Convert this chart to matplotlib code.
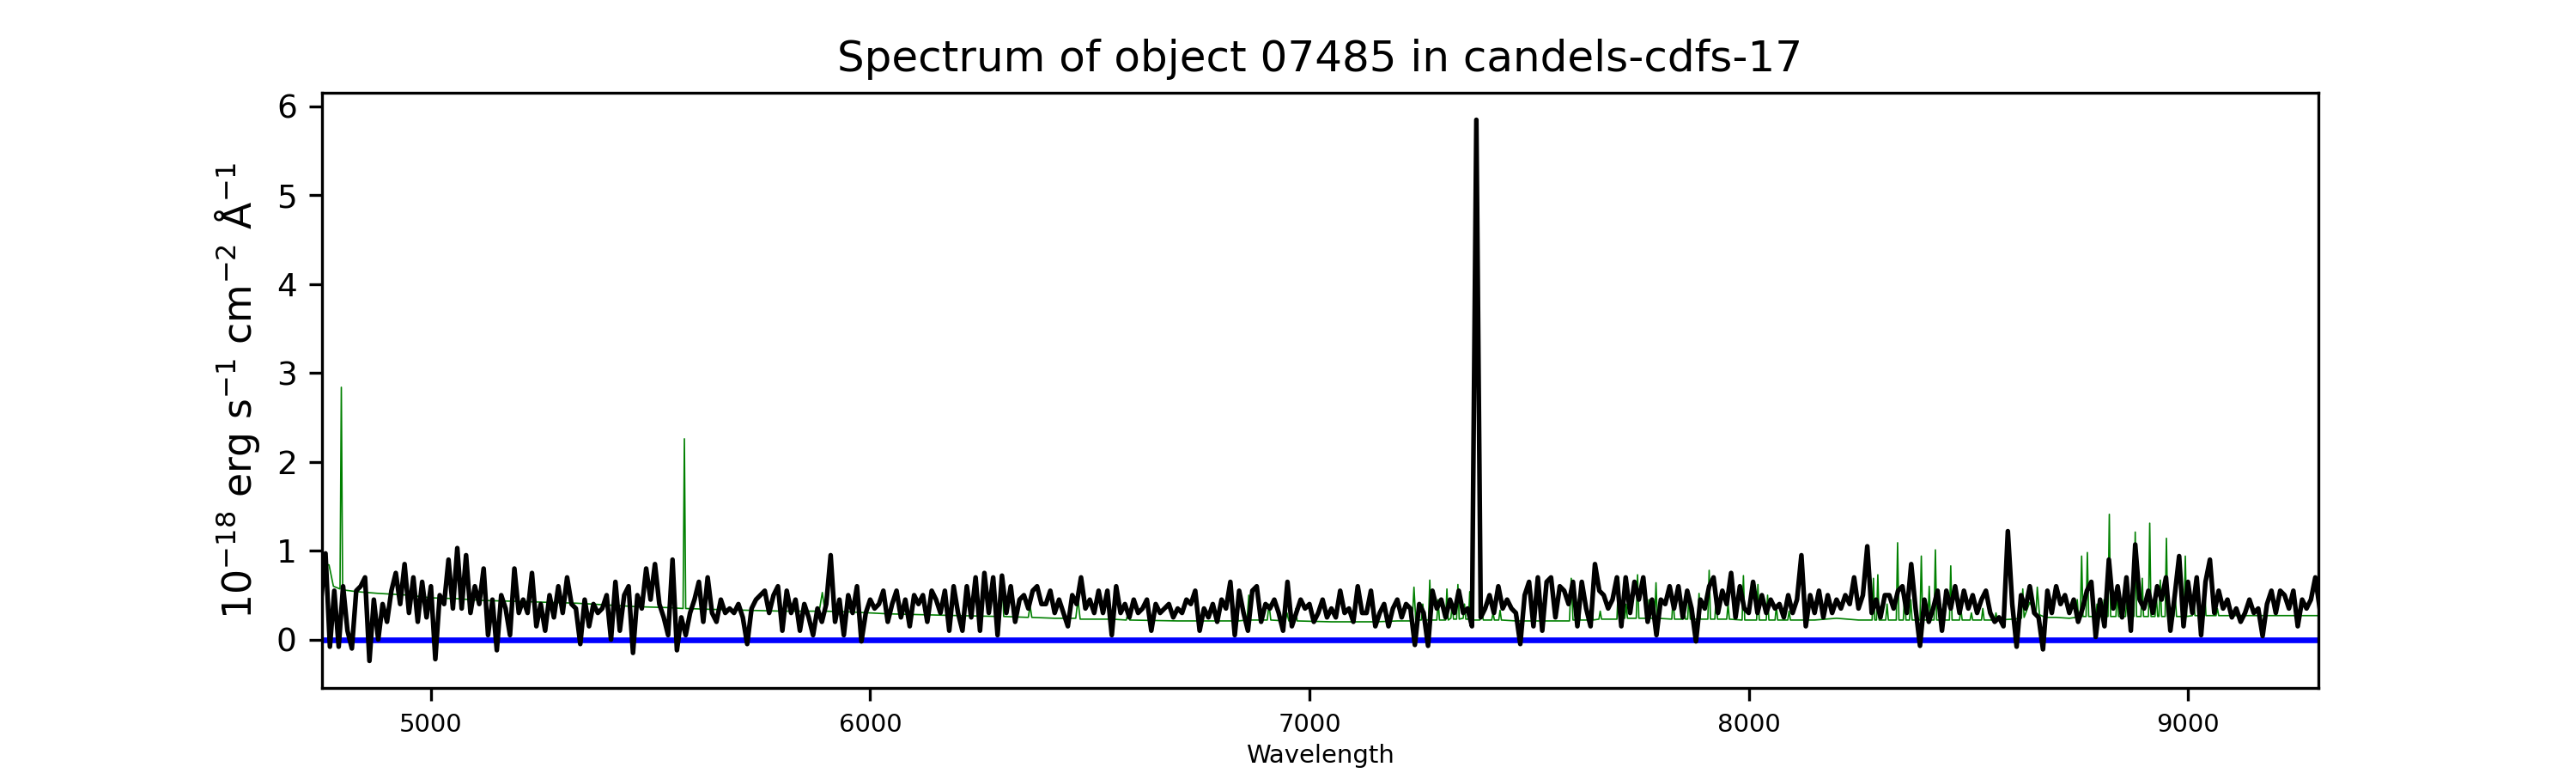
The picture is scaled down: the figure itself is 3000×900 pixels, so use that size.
"""Spectrum figure: object flux, sky/error spectrum and zero level."""

import matplotlib

matplotlib.use("Agg")
import matplotlib.pyplot as plt
import numpy as np

# wavelength grid of the extracted spectrum (Angstrom)
wave_start = 4750.0
wave_step = 10.0

# object flux, 1e-18 erg/s/cm2/A  (one row per 100 A)
flux = [
    0.45, 0.97, -0.08, 0.55, -0.08, 0.60, 0.10, -0.10, 0.55, 0.60,   # 4750
    0.70, -0.24, 0.45, 0.00, 0.40, 0.20, 0.55, 0.75, 0.40, 0.85,    # 4850
    0.30, 0.70, 0.20, 0.65, 0.25, 0.60, -0.22, 0.50, 0.40, 0.90,    # 4950
    0.35, 1.03, 0.35, 0.95, 0.30, 0.60, 0.40, 0.80, 0.05, 0.45,     # 5050
    -0.12, 0.50, 0.35, 0.05, 0.80, 0.30, 0.45, 0.30, 0.75, 0.15,    # 5150
    0.40, 0.10, 0.50, 0.25, 0.60, 0.30, 0.70, 0.40, 0.35, -0.05,    # 5250
    0.45, 0.15, 0.40, 0.30, 0.35, 0.50, 0.00, 0.65, 0.10, 0.50,     # 5350
    0.60, -0.15, 0.50, 0.35, 0.80, 0.45, 0.85, 0.40, 0.25, 0.05,    # 5450
    0.90, -0.12, 0.25, 0.05, 0.30, 0.45, 0.65, 0.20, 0.70, 0.30,    # 5550
    0.20, 0.45, 0.30, 0.35, 0.30, 0.40, 0.25, -0.05, 0.35, 0.45,    # 5650
    0.50, 0.55, 0.30, 0.50, 0.60, 0.10, 0.55, 0.30, 0.45, 0.10,     # 5750
    0.40, 0.25, 0.05, 0.35, 0.20, 0.40, 0.95, 0.20, 0.45, 0.05,     # 5850
    0.50, 0.30, 0.60, -0.02, 0.30, 0.45, 0.35, 0.40, 0.55, 0.20,    # 5950
    0.40, 0.55, 0.25, 0.45, 0.15, 0.50, 0.40, 0.50, 0.20, 0.55,     # 6050
    0.45, 0.30, 0.55, 0.10, 0.60, 0.30, 0.10, 0.60, 0.25, 0.70,     # 6150
    0.10, 0.75, 0.30, 0.70, 0.05, 0.72, 0.30, 0.60, 0.20, 0.45,     # 6250
    0.50, 0.35, 0.55, 0.60, 0.40, 0.40, 0.55, 0.30, 0.45, 0.30,     # 6350
    0.15, 0.50, 0.40, 0.70, 0.35, 0.45, 0.30, 0.55, 0.30, 0.55,     # 6450
    0.05, 0.60, 0.30, 0.40, 0.25, 0.45, 0.30, 0.35, 0.45, 0.10,     # 6550
    0.40, 0.30, 0.35, 0.40, 0.25, 0.35, 0.30, 0.45, 0.40, 0.55,     # 6650
    0.10, 0.35, 0.25, 0.40, 0.20, 0.45, 0.35, 0.65, 0.05, 0.55,     # 6750
    0.30, 0.10, 0.55, 0.60, 0.20, 0.40, 0.35, 0.45, 0.30, 0.10,     # 6850
    0.65, 0.15, 0.30, 0.45, 0.35, 0.40, 0.20, 0.30, 0.45, 0.25,     # 6950
    0.35, 0.25, 0.55, 0.30, 0.35, 0.20, 0.60, 0.30, 0.30, 0.55,     # 7050
    0.15, 0.30, 0.40, 0.15, 0.35, 0.45, 0.25, 0.40, 0.35, -0.06,    # 7150
    0.40, 0.30, -0.07, 0.55, 0.35, 0.45, 0.25, 0.45, 0.30, 0.55,    # 7250
    0.30, 0.35, 0.15, 5.85, 0.25, 0.35, 0.50, 0.30, 0.60, 0.35,     # 7350
    0.45, 0.35, 0.30, -0.05, 0.50, 0.65, 0.15, 0.70, 0.10, 0.65,    # 7450
    0.70, 0.25, 0.60, 0.55, 0.40, 0.65, 0.15, 0.65, 0.35, 0.15,     # 7550
    0.85, 0.55, 0.50, 0.35, 0.45, 0.70, 0.15, 0.70, 0.30, 0.65,     # 7650
    0.45, 0.70, 0.20, 0.45, 0.05, 0.45, 0.40, 0.60, 0.35, 0.60,     # 7750
    0.25, 0.55, 0.35, -0.02, 0.45, 0.35, 0.60, 0.70, 0.30, 0.55,    # 7850
    0.40, 0.75, 0.25, 0.60, 0.35, 0.30, 0.65, 0.30, 0.50, 0.30,     # 7950
    0.45, 0.35, 0.40, 0.25, 0.50, 0.30, 0.45, 0.95, 0.15, 0.50,     # 8050
    0.30, 0.55, 0.25, 0.50, 0.30, 0.45, 0.35, 0.50, 0.40, 0.70,     # 8150
    0.35, 0.50, 1.05, 0.30, 0.45, 0.25, 0.50, 0.50, 0.35, 0.55,     # 8250
    0.60, 0.30, 0.85, 0.35, -0.07, 0.45, 0.20, 0.35, 0.55, 0.10,    # 8350
    0.55, 0.35, 0.60, 0.30, 0.55, 0.35, 0.50, 0.30, 0.45, 0.55,     # 8450
    0.30, 0.20, 0.25, 0.15, 1.22, 0.40, -0.08, 0.50, 0.35, 0.60,    # 8550
    0.30, 0.25, -0.11, 0.55, 0.30, 0.60, 0.40, 0.50, 0.30, 0.45,    # 8650
    0.20, 0.35, 0.55, 0.65, 0.03, 0.45, 0.15, 0.90, 0.35, 0.60,     # 8750
    0.25, 0.70, 0.10, 1.07, 0.45, 0.35, 0.55, 0.30, 0.60, 0.45,     # 8850
    0.70, 0.10, 0.50, 0.94, 0.15, 0.65, 0.30, 0.70, 0.05, 0.65,     # 8950
    0.90, 0.30, 0.55, 0.35, 0.45, 0.25, 0.35, 0.20, 0.30, 0.45,     # 9050
    0.30, 0.35, 0.04, 0.40, 0.55, 0.30, 0.55, 0.50, 0.35, 0.55,     # 9150
    0.15, 0.45, 0.35, 0.45, 0.70, 0.35,                             # 9250
]

# sky / noise spectrum (narrow sky lines kept as explicit points)
sky_wave = [
    4752, 4768, 4778, 4793, 4796, 4799, 4830, 4880, 4950, 5000,
    5060, 5120, 5200, 5260, 5330, 5400, 5470, 5540, 5574, 5577,
    5580, 5640, 5720, 5800, 5884, 5891, 5897, 5960, 6040, 6120,
    6200, 6296, 6300, 6304, 6360, 6364, 6368, 6420, 6468, 6473,
    6478, 6550, 6583, 6587, 6591, 6700, 6830, 6834, 6838, 6858,
    6862, 6866, 6904, 6908, 6912, 6945, 6949, 6953, 6966, 6969,
    6972, 7050, 7150, 7200, 7234, 7238, 7242, 7255, 7258, 7262,
    7271, 7274, 7277, 7290, 7293, 7296, 7310, 7313, 7316, 7322,
    7325, 7328, 7335, 7338, 7341, 7350, 7353, 7356, 7362, 7365,
    7368, 7388, 7392, 7396, 7415, 7418, 7421, 7431, 7434, 7437,
    7470, 7473, 7476, 7592, 7596, 7600, 7610, 7613, 7616, 7640,
    7643, 7646, 7659, 7662, 7665, 7700, 7704, 7708, 7718, 7721,
    7724, 7744, 7747, 7750, 7770, 7773, 7776, 7786, 7789, 7792,
    7825, 7828, 7831, 7850, 7853, 7856, 7861, 7864, 7867, 7884,
    7887, 7890, 7907, 7910, 7913, 7923, 7926, 7929, 7950, 7953,
    7956, 7985, 7988, 7991, 8018, 8021, 8024, 8040, 8043, 8046,
    8060, 8063, 8066, 8089, 8092, 8095, 8150, 8200, 8250, 8281,
    8284, 8287, 8291, 8294, 8297, 8312, 8315, 8318, 8336, 8339,
    8342, 8352, 8355, 8358, 8366, 8369, 8372, 8390, 8393, 8396,
    8408, 8411, 8414, 8422, 8425, 8428, 8440, 8443, 8446, 8457,
    8460, 8463, 8480, 8483, 8486, 8504, 8507, 8510, 8530, 8533,
    8536, 8560, 8563, 8566, 8600, 8621, 8624, 8627, 8640, 8654,
    8657, 8662, 8675, 8700, 8730, 8745, 8748, 8751, 8755, 8758,
    8761, 8768, 8771, 8774, 8790, 8793, 8796, 8806, 8809, 8812,
    8818, 8821, 8824, 8836, 8839, 8842, 8858, 8861, 8864, 8877,
    8880, 8883, 8893, 8896, 8899, 8910, 8913, 8916, 8925, 8928,
    8931, 8934, 8937, 8940, 8948, 8951, 8954, 8968, 8971, 8974,
    8991, 8994, 8997, 9010, 9013, 9016, 9035, 9038, 9041, 9064,
    9067, 9070, 9100, 9150, 9200, 9300,
]
sky_flux = [
    0.86, 0.84, 0.60, 0.57, 2.84, 0.56, 0.54, 0.52, 0.50, 0.47,
    0.46, 0.44, 0.43, 0.42, 0.41, 0.39, 0.37, 0.36, 0.35, 2.26,
    0.35, 0.34, 0.33, 0.32, 0.32, 0.53, 0.32, 0.31, 0.29, 0.28,
    0.27, 0.26, 0.71, 0.26, 0.25, 0.38, 0.25, 0.24, 0.24, 0.45,
    0.23, 0.23, 0.22, 0.30, 0.22, 0.21, 0.21, 0.32, 0.21, 0.22,
    0.50, 0.22, 0.22, 0.40, 0.22, 0.21, 0.30, 0.21, 0.21, 0.35,
    0.21, 0.20, 0.20, 0.21, 0.21, 0.59, 0.22, 0.22, 0.40, 0.22,
    0.22, 0.67, 0.22, 0.22, 0.45, 0.22, 0.22, 0.57, 0.22, 0.24,
    0.40, 0.23, 0.23, 0.62, 0.23, 0.24, 0.40, 0.23, 0.23, 0.54,
    0.22, 0.22, 0.30, 0.22, 0.22, 0.30, 0.22, 0.22, 0.33, 0.22,
    0.21, 0.28, 0.21, 0.21, 0.69, 0.22, 0.22, 0.46, 0.22, 0.22,
    0.35, 0.22, 0.23, 0.32, 0.23, 0.23, 0.70, 0.24, 0.24, 0.40,
    0.24, 0.24, 0.73, 0.24, 0.24, 0.45, 0.24, 0.24, 0.64, 0.24,
    0.23, 0.48, 0.23, 0.23, 0.35, 0.23, 0.23, 0.49, 0.23, 0.23,
    0.52, 0.23, 0.23, 0.78, 0.23, 0.23, 0.50, 0.23, 0.23, 0.40,
    0.23, 0.22, 0.72, 0.22, 0.22, 0.62, 0.22, 0.22, 0.50, 0.22,
    0.22, 0.38, 0.22, 0.22, 0.32, 0.22, 0.22, 0.24, 0.22, 0.22,
    0.69, 0.22, 0.22, 0.73, 0.22, 0.22, 0.40, 0.22, 0.22, 1.09,
    0.22, 0.22, 0.50, 0.22, 0.22, 0.45, 0.22, 0.22, 0.94, 0.22,
    0.22, 0.60, 0.22, 0.22, 1.01, 0.22, 0.22, 0.40, 0.22, 0.22,
    0.83, 0.22, 0.22, 0.35, 0.22, 0.22, 0.30, 0.22, 0.22, 0.35,
    0.22, 0.22, 0.30, 0.22, 0.23, 0.24, 0.57, 0.25, 0.42, 0.28,
    0.59, 0.28, 0.25, 0.25, 0.24, 0.25, 0.45, 0.25, 0.25, 0.94,
    0.26, 0.26, 0.98, 0.26, 0.26, 0.40, 0.26, 0.26, 0.45, 0.26,
    0.26, 1.41, 0.26, 0.26, 0.55, 0.26, 0.26, 0.45, 0.26, 0.26,
    1.21, 0.26, 0.26, 0.69, 0.26, 0.26, 1.31, 0.26, 0.26, 0.50,
    0.26, 0.26, 0.67, 0.26, 0.26, 1.14, 0.26, 0.26, 0.50, 0.26,
    0.26, 0.94, 0.26, 0.27, 0.45, 0.27, 0.27, 0.62, 0.27, 0.27,
    0.35, 0.27, 0.27, 0.27, 0.27, 0.27,
]

wave_limits = (4752, 9297)
title = "Spectrum of object 07485 in candels-cdfs-17"
ylabel = r"$10^{-18}$ erg s$^{-1}$ cm$^{-2}$ Å$^{-1}$"

wave = wave_start + wave_step * np.arange(len(flux))

fig, ax = plt.subplots(figsize=(10, 3), dpi=300)

ax.axhline(0, color="blue", linewidth=1.6)
ax.plot(sky_wave, sky_flux, color="green", linewidth=0.4)
ax.plot(wave, flux, color="black", linewidth=1.3)

ax.set_xlim(*wave_limits)
ax.set_title(title, fontsize=12)
ax.set_xlabel("Wavelength", fontsize=7, labelpad=2)
ax.set_ylabel(ylabel, fontsize=11)
ax.tick_params(axis="x", labelsize=7)
ax.tick_params(axis="y", labelsize=9)

fig.savefig("out.png", dpi=300)
